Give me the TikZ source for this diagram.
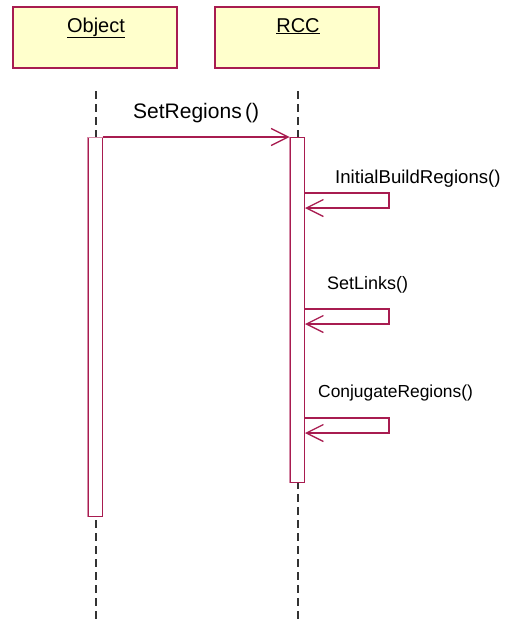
\documentclass[tikz,border=0pt]{standalone}
\usepackage{fontspec}
\setmainfont{Liberation Sans}
\usetikzlibrary{arrows.meta}
\definecolor{crim}{HTML}{A81C50}
\definecolor{actl}{HTML}{D58CA8}
\definecolor{boxfill}{HTML}{FFFFCC}
\definecolor{dash}{HTML}{333333}
\tikzset{
  objbox/.style={draw=crim, fill=boxfill, line width=1.2pt, minimum width=164pt, minimum height=61pt, inner sep=0pt},
  hdr/.style={font=\fontsize{20}{22}\selectfont, anchor=base, inner sep=0pt},
  lifeline/.style={draw=dash, line width=1.1pt, dash pattern=on 8pt off 5pt},
  act/.style={draw=crim, fill=white, line width=1pt, minimum width=14pt, inner sep=0pt, anchor=north},
  msg/.style={draw=crim, line width=1.1pt, -{Straight Barb[length=17pt, width=17pt, line width=1.3pt]}},
  lbl/.style={font=\fontsize{18}{20}\selectfont, anchor=base west, inner sep=0pt},
}
\begin{document}
\begin{tikzpicture}[x=1pt, y=-1pt]
\useasboundingbox (0,0) rectangle (508,621);
% headers
\node[objbox] (objbox) at (95,37.5) {};
\node[objbox] (rccbox) at (297,37.5) {};
\node[hdr] (objlbl) at (96,32) {\underline{Object}};
\node[hdr] (rcclbl) at (298,32) {\underline{RCC}};
% lifelines
\coordinate (objtop) at (96,91);
\coordinate (objbot) at (96,621);
\coordinate (rcctop) at (298,91);
\coordinate (rccbot) at (298,621);
\draw[lifeline] (objtop) -- (objbot);
\draw[lifeline] (rcctop) -- (rccbot);
% activations
\node[act, minimum height=379pt] (objact) at (95,137) {};
\node[act, minimum height=345pt] (rccact) at (297,137) {};
\draw[actl, line width=1pt] (objact.south west) -- (objact.north west) -- (objact.north east);
\draw[actl, line width=1pt] (rccact.south west) -- (rccact.north west);
% call
\draw[msg] (objact.north east) -- (rccact.north west);
\node[lbl, font=\fontsize{21}{23}\selectfont] (m1) at (133,118) {SetRegions\,()};
% self calls
\coordinate (a1) at (304,193); \coordinate (b1) at (389,193);
\coordinate (c1) at (389,208); \coordinate (d1) at (305,208);
\draw[msg] (a1) -- (b1) -- (c1) -- (d1);
\node[lbl, font=\fontsize{18.6}{20}\selectfont] (m2) at (335,183) {InitialBuildRegions()};
\coordinate (a2) at (304,309); \coordinate (b2) at (389,309);
\coordinate (c2) at (389,324); \coordinate (d2) at (305,324);
\draw[msg] (a2) -- (b2) -- (c2) -- (d2);
\node[lbl] (m3) at (327,289) {SetLinks()};
\coordinate (a3) at (304,418); \coordinate (b3) at (389,418);
\coordinate (c3) at (389,433); \coordinate (d3) at (305,433);
\draw[msg] (a3) -- (b3) -- (c3) -- (d3);
\node[lbl, font=\fontsize{17.4}{20}\selectfont] (m4) at (318,397) {ConjugateRegions()};
\end{tikzpicture}
\end{document}
